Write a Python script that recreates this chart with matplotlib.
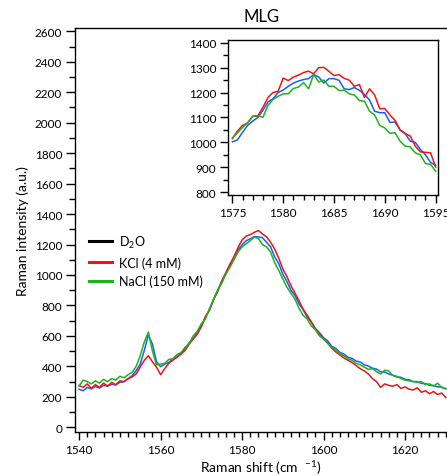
import numpy as np
import matplotlib
matplotlib.use('Agg')
import matplotlib.pyplot as plt
from matplotlib.lines import Line2D
from matplotlib.ticker import MultipleLocator, FixedLocator

plt.rcParams['font.family'] = ['Lato', 'DejaVu Sans']
plt.rcParams['mathtext.fontset'] = 'custom'
plt.rcParams['mathtext.rm'] = 'Lato'
plt.rcParams['mathtext.it'] = 'Lato:italic'

# main spectrum, 1 cm-1 steps
shift = np.arange(1540, 1631)
d2o = [250, 240, 262, 252, 268, 258, 275, 270, 282, 278,
       295, 298, 320, 338, 372, 415, 505, 608, 545, 430,
       398, 415, 425, 448, 460, 488, 515, 555, 580, 625,
       665, 725, 770, 838, 890, 958, 1008, 1065, 1105, 1165,
       1198, 1225, 1238, 1252, 1250, 1245, 1215, 1185, 1118, 1075,
       1005, 958, 900, 865, 810, 772, 722, 692, 648, 622,
       588, 568, 532, 518, 492, 480, 460, 452, 435, 428,
       410, 402, 388, 382, 365, 362, 350, 342, 330, 328,
       315, 312, 300, 300, 288, 287, 275, 274, 265, 264, 252]
kcl = [275, 262, 285, 255, 280, 262, 290, 270, 295, 280,
       305, 300, 318, 330, 350, 395, 440, 470, 430, 395,
       345, 385, 420, 440, 460, 480, 505, 545, 580, 610,
       660, 725, 770, 840, 895, 960, 1015, 1070, 1120, 1180,
       1230, 1255, 1265, 1280, 1292, 1270, 1250, 1215, 1170, 1110,
       1040, 990, 930, 880, 830, 775, 735, 690, 645, 610,
       580, 555, 520, 495, 475, 455, 440, 425, 405, 385,
       370, 350, 320, 300, 262, 285, 275, 270, 280, 255,
       265, 250, 245, 260, 230, 240, 220, 235, 215, 225, 195]
nacl = [270, 310, 300, 285, 305, 290, 315, 300, 320, 310,
        335, 325, 345, 360, 400, 470, 560, 625, 500, 410,
        415, 420, 445, 450, 478, 490, 525, 548, 600, 630,
        680, 710, 780, 840, 900, 945, 1005, 1050, 1100, 1150,
        1185, 1205, 1225, 1250, 1240, 1200, 1185, 1150, 1080, 1030,
        975, 920, 880, 840, 780, 735, 710, 665, 640, 600,
        580, 550, 525, 510, 480, 470, 450, 440, 420, 410,
        395, 380, 385, 365, 350, 375, 370, 340, 335, 320,
        310, 305, 300, 295, 300, 280, 285, 270, 290, 260, 255]

# inset, 0.5 cm-1 steps
shift_in = np.arange(1575, 1595.5, 0.5)
d2o_in = [1002, 1010, 1040, 1068, 1085, 1100, 1128, 1162, 1175, 1200,
          1210, 1225, 1238, 1246, 1252, 1256, 1272, 1262, 1238, 1256,
          1256, 1249, 1215, 1212, 1220, 1209, 1192, 1170, 1125, 1119,
          1119, 1080, 1082, 1050, 1035, 1005, 1000, 972, 950, 920, 908]
kcl_in = [1015, 1045, 1068, 1078, 1105, 1105, 1140, 1180, 1200, 1205,
          1258, 1248, 1262, 1270, 1280, 1286, 1275, 1300, 1301, 1285,
          1268, 1272, 1257, 1250, 1225, 1232, 1180, 1215, 1190, 1135,
          1136, 1110, 1089, 1050, 1036, 1025, 985, 962, 960, 958, 901]
nacl_in = [1018, 1038, 1060, 1078, 1105, 1108, 1100, 1148, 1172, 1185,
           1195, 1195, 1216, 1222, 1240, 1215, 1272, 1242, 1250, 1225,
           1225, 1208, 1209, 1195, 1190, 1168, 1165, 1125, 1110, 1068,
           1058, 1036, 1039, 1005, 985, 982, 958, 950, 915, 912, 884]
inset_ticks = [1575, 1580, 1585, 1590, 1595]
inset_labels = ['1575', '1580', '1685', '1690', '1595']

labels = ['D$_2$O', 'KCl (4 mM)', 'NaCl (150 mM)']
colors = ['#1a5cff', '#f01414', '#1cb41c']
legend_colors = ['black', '#f01414', '#1cb41c']

fig = plt.figure(figsize=(4.47, 4.77), dpi=100)
ax = fig.add_axes([0.1685, 0.0916, 0.8315, 0.847])
for y, c in zip([d2o, kcl, nacl], colors):
    ax.plot(shift, y, color=c, lw=1.1)
ax.set_xlim(1539.07, 1630.3)
ax.set_ylim(-33, 2620)
ax.spines['right'].set_visible(False)
for s in ax.spines.values():
    s.set_linewidth(1.0)
ax.xaxis.set_major_locator(MultipleLocator(20))
ax.xaxis.set_minor_locator(MultipleLocator(2))
ax.yaxis.set_major_locator(MultipleLocator(200))
ax.yaxis.set_minor_locator(MultipleLocator(100))
ax.tick_params(which='major', axis='y', direction='out', length=6.5, width=1.0, labelsize=8.5, pad=3)
ax.tick_params(which='minor', axis='y', direction='out', length=4.3, width=1.0)
ax.tick_params(which='major', axis='x', direction='out', length=5.5, width=1.0, labelsize=8.5, pad=3)
ax.tick_params(which='minor', axis='x', direction='out', length=3.6, width=1.0)
ax.set_xlabel('Raman shift (cm  $^{-1}$)', fontsize=10, labelpad=2)
ax.set_ylabel('Raman intensity (a.u.)', fontsize=10, labelpad=4)
fig.text(0.586, 0.964, 'MLG', ha='center', va='center', fontsize=12)

handles = [Line2D([], [], color=c, lw=2.2) for c in legend_colors]
fig.legend(handles, labels, loc='upper left', bbox_to_anchor=(0.2, 0.508),
           frameon=False, fontsize=9, handlelength=1.8, handletextpad=0.6,
           labelspacing=0.5, borderpad=0, borderaxespad=0)

axi = fig.add_axes([0.5107, 0.5897, 0.4698, 0.3237])
for y, c in zip([d2o_in, kcl_in, nacl_in], colors):
    axi.plot(shift_in, y, color=c, lw=1.1)
axi.set_xlim(1574.6, 1595.26)
axi.set_ylim(790, 1409.6)
for s in axi.spines.values():
    s.set_linewidth(1.0)
axi.xaxis.set_major_locator(FixedLocator(inset_ticks))
axi.set_xticklabels(inset_labels)
axi.xaxis.set_minor_locator(MultipleLocator(1))
axi.yaxis.set_major_locator(MultipleLocator(100))
axi.yaxis.set_minor_locator(MultipleLocator(50))
axi.tick_params(which='major', direction='out', length=5.5, width=1.0, labelsize=8.5, pad=3)
axi.tick_params(which='minor', direction='out', length=3.6, width=1.0)

fig.savefig('out.png', dpi=100)
